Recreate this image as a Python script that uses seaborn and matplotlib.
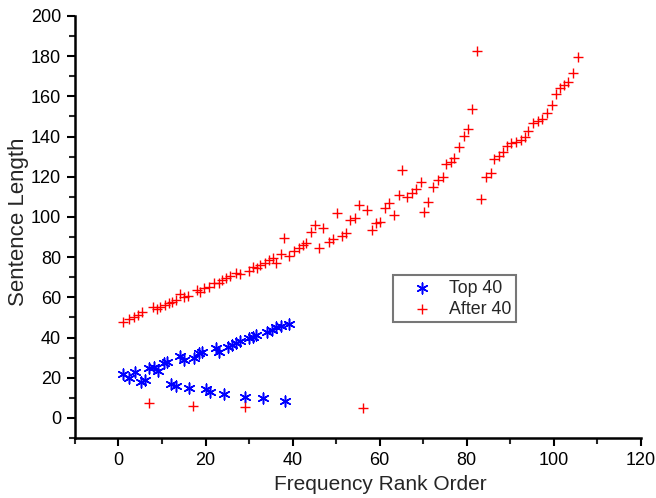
import numpy as np
import pandas as pd
import matplotlib
matplotlib.use("Agg")
import matplotlib.pyplot as plt
import seaborn as sns
from matplotlib.ticker import MultipleLocator

top_x = [1.0, 2.3, 3.8, 5.2, 6.0, 7.1, 8.1, 9.0, 10.4, 11.2, 12.1, 13.1, 14.2, 15.1,
         16.1, 17.4, 18.4, 19.2, 20.2, 21.0, 22.3, 23.0, 24.2, 25.2, 26.1, 27.1, 28.0,
         29.0, 30.0, 31.0, 31.7, 33.2, 34.2, 35.3, 36.3, 37.3, 38.2, 39.1]
top_y = [21.9, 19.7, 23.0, 18.0, 18.9, 24.7, 25.5, 23.5, 27.2, 28.0, 16.9, 15.9, 30.8, 28.9,
         14.8, 29.7, 32.2, 33.0, 14.3, 13.1, 34.7, 33.0, 11.8, 35.5, 36.3, 37.5, 38.5,
         10.6, 39.7, 40.5, 41.3, 9.8, 42.9, 43.8, 45.1, 45.8, 8.6, 46.8]

after_x = [1.0, 2.3, 3.5, 4.5, 5.4, 7.1, 7.9, 8.8, 9.6, 10.8, 11.5, 12.3, 13.1, 14.2, 15.0,
           15.9, 17.1, 18.1, 18.8, 19.6, 20.7, 21.9, 23.0, 23.8, 24.8, 25.7, 26.9, 27.9,
           29.0, 30.0, 31.0, 31.9, 32.6, 33.6, 34.6, 35.6, 36.1, 37.3, 38.0, 39.2, 40.4,
           41.5, 42.5, 43.1, 44.2, 45.1, 46.1, 47.1, 48.4, 49.2, 50.3, 51.3, 52.2, 53.1,
           54.3, 55.3, 56.1, 57.2, 58.3, 59.2, 60.2, 61.3, 62.2, 63.2, 64.4, 65.2, 66.3,
           67.4, 68.4, 69.5, 70.1, 71.2, 72.2, 73.4, 74.5, 75.3, 76.3, 77.2, 78.3, 79.4,
           80.3, 81.2, 82.4, 83.3, 84.5, 85.5, 86.4, 87.4, 88.3, 89.3, 90.3, 91.4, 92.4,
           93.3, 94.2, 95.2, 96.4, 97.3, 98.5, 99.5, 100.5, 101.4, 102.3, 103.3, 104.5, 105.5]
after_y = [47.6, 49.3, 50.4, 51.3, 52.6, 7.6, 55.1, 54.1, 55.1, 56.2, 57.4, 57.9, 58.7, 61.7, 60.0,
           60.7, 6.0, 63.7, 62.8, 64.5, 65.3, 67.3, 67.3, 68.7, 69.5, 70.6, 72.3, 71.6,
           5.6, 73.3, 75.3, 74.8, 76.1, 77.3, 78.6, 79.5, 77.3, 81.6, 89.6, 80.8, 83.0,
           84.5, 85.8, 86.8, 92.5, 96.0, 84.4, 94.3, 87.7, 88.9, 101.8, 90.5, 91.9, 98.7,
           99.7, 105.8, 4.8, 103.5, 93.5, 96.9, 97.7, 104.5, 106.8, 101.0, 110.7, 123.4, 110.0,
           112.0, 113.8, 117.6, 102.6, 107.5, 115.1, 118.4, 120.1, 126.4, 127.5, 129.2, 134.7, 140.3,
           143.6, 153.6, 182.6, 108.8, 120.1, 122.0, 128.7, 130.3, 132.5, 135.3, 136.7, 137.5, 138.3,
           139.6, 142.9, 146.6, 147.9, 148.6, 151.9, 155.7, 161.2, 164.0, 165.7, 167.3, 171.5, 179.8]

series_names = ["Top 40", "After 40"]
x_ticks = [0, 20, 40, 60, 80, 100, 120]
y_ticks = [0, 20, 40, 60, 80, 100, 120, 140, 160, 180, 200]

df_top = pd.DataFrame({"x": top_x, "y": top_y})
df_after = pd.DataFrame({"x": after_x, "y": after_y})

sns.set_style("ticks")
plt.rcParams["font.family"] = ["Liberation Sans", "DejaVu Sans"]

fig = plt.figure(figsize=(6.56, 4.98), dpi=100)
ax = fig.add_axes([0.1143, 0.1205, 0.8624, 0.8474])

sns.scatterplot(data=df_top, x="x", y="y", ax=ax, marker=(6, 2, 0), s=60,
                color="#0000FF", edgecolor="#0000FF", linewidth=1.1, label=series_names[0])
sns.scatterplot(data=df_after, x="x", y="y", ax=ax, marker="+", s=45,
                color="#FF0000", linewidth=1.0, label=series_names[1])

ax.set_xlim(-10, 120)
ax.set_ylim(-10, 200)
ax.set_xticks(x_ticks)
ax.set_yticks(y_ticks)
ax.xaxis.set_minor_locator(MultipleLocator(10))
ax.yaxis.set_minor_locator(MultipleLocator(10))
ax.tick_params(which="major", length=6, width=1.5, labelsize=13, colors="black", pad=4)
ax.tick_params(which="minor", length=4, width=1.5)
for side in ["top", "right"]:
    ax.spines[side].set_visible(False)
for side in ["left", "bottom"]:
    ax.spines[side].set_linewidth(1.8)
    ax.spines[side].set_color("black")

ax.set_xlabel("Frequency Rank Order", fontsize=15)
ax.set_ylabel("Sentence Length", fontsize=16)
ax.xaxis.set_label_coords(0.540, -0.088)
ax.yaxis.set_label_coords(-0.081, 0.513)

leg = ax.legend(loc="upper left", bbox_to_anchor=(0.562, 0.386), borderaxespad=0,
                fontsize=12.8, frameon=True, fancybox=False, edgecolor="#555555",
                handletextpad=0.1, borderpad=0.25, labelspacing=0.25, handlelength=2.8)
leg.get_frame().set_linewidth(1.5)

fig.savefig("out.png", dpi=100)
